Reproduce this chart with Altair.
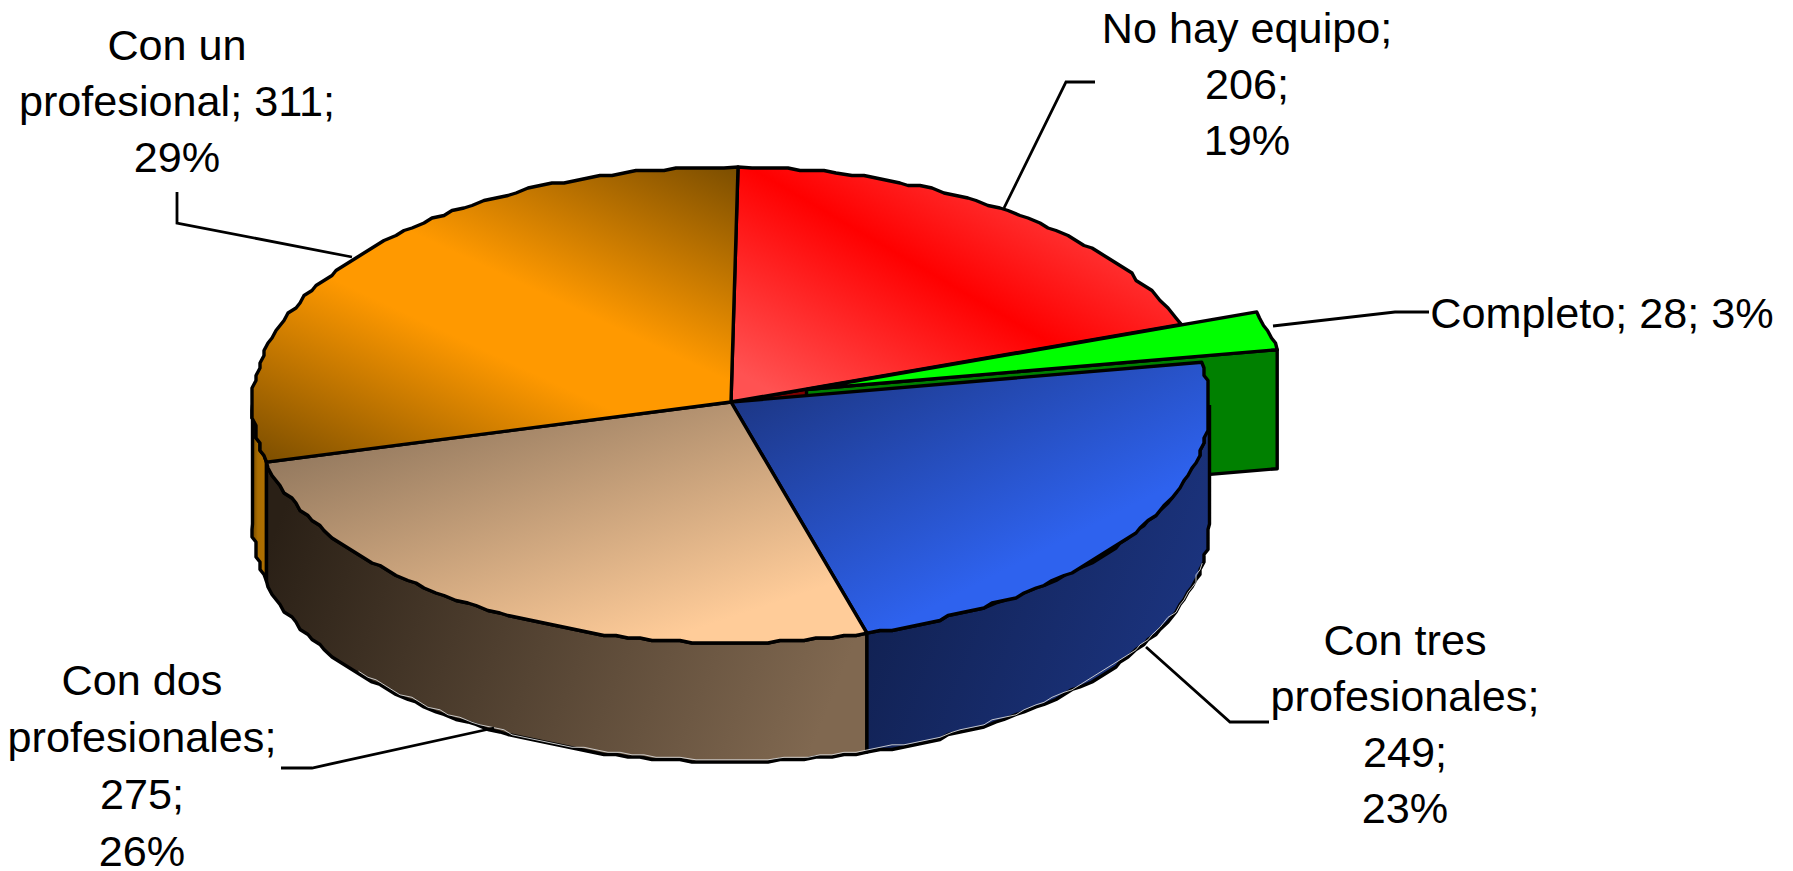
import math
import altair as alt
import pandas as pd

# ---- chart values ----
categories = ["No hay equipo", "Completo", "Con tres profesionales", "Con dos profesionales", "Con un profesional"]
counts = [206, 28, 249, 275, 311]
percents = [19, 3, 23, 26, 29]
label_lines = [
    ["No hay equipo;", "206;", "19%"],
    ["Completo; 28; 3%"],
    ["Con tres", "profesionales;", "249;", "23%"],
    ["Con dos", "profesionales;", "275;", "26%"],
    ["Con un", "profesional; 311;", "29%"],
]

# ---- layout (page pixels, minus the 8px page margin) ----
W, H = 1777, 862
M = 8
APEX = (731 - M, 402 - M)
CX, CY, RX, RY, DEPTH = 731 - M, 405 - M, 478.5, 238, 119
START = 0.84
EXPLODE = (75.5, -12.5)
GRID_X, GRID_Y = 4.0, 2.5
label_pos = [
    (1247, [43, 99, 155]),
    (1602, [328]),
    (1405, [655, 711, 767, 823]),
    (142, [695, 752, 809, 866]),
    (177, [60, 116, 172]),
]
leaders = [
    [(1095, 82), (1066, 82), (1004, 208)],
    [(1273, 326), (1395, 312), (1429, 312)],
    [(1146, 647), (1230, 722), (1269, 722)],
    [(281, 768), (312, 768), (494, 728)],
    [(177, 192), (177, 223), (352, 257)],
]

total = sum(counts)
edges = [START]
for c in counts:
    edges.append(edges[-1] + c / total * 360)


def pt(t, dx=0.0, dy=0.0, snap=False):
    r = math.radians(t)
    x = CX + RX * math.sin(r)
    y = CY - RY * math.cos(r)
    if snap:
        x = round(x / GRID_X) * GRID_X
        y = round(y / GRID_Y) * GRID_Y
    return (x + dx, y + dy)


def arc(t0, t1, dx=0.0, dy=0.0):
    n = max(2, int(abs(t1 - t0) / 1.5))
    pts = [pt(t0, dx, dy)]
    for i in range(1, n):
        pts.append(pt(t0 + (t1 - t0) * i / n, dx, dy, snap=True))
    pts.append(pt(t1, dx, dy))
    return pts


def grad(x1, y1, x2, y2, stops):
    return alt.Gradient(
        gradient="linear", x1=x1, y1=y1, x2=x2, y2=y2,
        stops=[alt.GradientStop(offset=o, color=c) for o, c in stops],
    )


X = alt.X("x:Q", scale=alt.Scale(domain=[0, W], nice=False, zero=False), axis=None)
Y = alt.Y("y:Q", scale=alt.Scale(domain=[H, 0], nice=False, zero=False), axis=None)


def poly(points, fill, width=3.4):
    pts = list(points) + [points[0]]
    df = pd.DataFrame({"x": [p[0] for p in pts], "y": [p[1] for p in pts], "i": range(len(pts))})
    return alt.Chart(df).mark_line(
        fill=fill, stroke="black", strokeWidth=width, strokeJoin="round", interpolate="linear"
    ).encode(x=X, y=Y, order=alt.Order("i:Q"))


def path(points, color="black", width=2.8):
    df = pd.DataFrame({"x": [p[0] for p in points], "y": [p[1] for p in points], "i": range(len(points))})
    return alt.Chart(df).mark_line(
        stroke=color, strokeWidth=width, strokeJoin="miter"
    ).encode(x=X, y=Y, order=alt.Order("i:Q"))


c = APEX
ex, ey = EXPLODE
red0, red1, grn1, blu1, tan1, org1 = edges

layers = []

# cut wall under the red slice, seen through the gap left by the pulled-out slice
p = pt(red1)
layers.append(poly([c, p, (p[0], p[1] + DEPTH), (c[0], c[1] + DEPTH)], "#7F0000"))

# pulled-out slice: cut wall
g_c = (APEX[0] + ex, APEX[1] + ey)
g_p = pt(grn1, ex, ey)
layers.append(poly([g_c, g_p, (g_p[0], g_p[1] + DEPTH), (g_c[0], g_c[1] + DEPTH)], "#008000"))


def wall(t0, t1, fill):
    top = arc(t0, t1)
    bottom = arc(t0, t1, dy=DEPTH)
    return poly(top + bottom[::-1], fill)


layers.append(wall(tan1, 270, grad(0, 0, 1, 0, [(0, "#6E4600"), (0.4, "#A86C00"), (1, "#B07000")])))
layers.append(wall(blu1, tan1, grad(0, 0.3, 1, 0.5, [(0, "#2A2016"), (1, "#806850")])))
layers.append(wall(90, blu1, grad(0, 0.3, 1, 0.7, [(0, "#101F4D"), (1, "#1C3582")])))

# thin light rim along the foot of the walls
layers.append(path(arc(tan1 - 25, 100, dy=DEPTH - 2.2), color="#D8D8D8", width=0.9))

# tops
layers.append(poly([c] + arc(org1 - 360, red1), grad(-0.027, 0.825, 0.867, 0.025, [(0, "#FF5252"), (0.5, "#FF0000"), (1, "#FF5252")])))
layers.append(poly([c] + arc(grn1, blu1), grad(0, 0, 0.85, 0.95, [(0, "#1A3178"), (0.75, "#2E62EE"), (1, "#2E62EE")])))
layers.append(poly([c] + arc(blu1, tan1), grad(0.02, 0, 0.85, 1, [(0, "#806A54"), (0.9, "#FFCC99"), (1, "#FFCC99")])))
layers.append(poly([c] + arc(tan1, org1), grad(0.986, -0.014, 0.13, 1.094, [(0, "#7A4D00"), (0.42, "#FF9900"), (0.58, "#FF9900"), (1, "#7A4D00")])))
layers.append(poly([g_c] + arc(red1, grn1, ex, ey), "#00FF00"))

# leaders
for ld in leaders:
    layers.append(path([(px - M, py - M) for px, py in ld]))

# labels
rows = []
for lines, (lx, ys) in zip(label_lines, label_pos):
    for s, yy in zip(lines, ys):
        rows.append({"x": lx - M, "y": yy - M, "t": s})
layers.append(
    alt.Chart(pd.DataFrame(rows)).mark_text(
        font="Liberation Sans", fontSize=43.2, color="black", align="center", baseline="alphabetic"
    ).encode(x=X, y=Y, text="t:N")
)

chart = alt.layer(*layers).properties(
    width=W, height=H, padding=0, autosize=alt.AutoSizeParams(type="none")
).configure_view(stroke=None)
chart.save("out.html", embed_options={"renderer": "svg", "actions": False})
